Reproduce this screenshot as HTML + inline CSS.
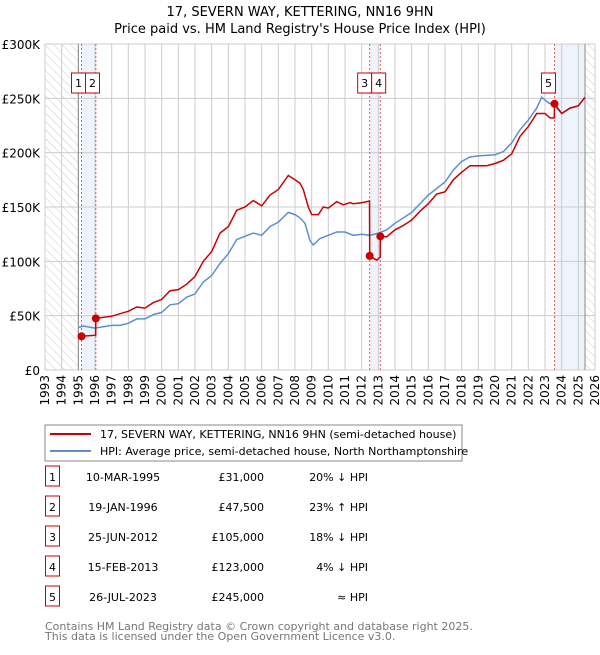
<!DOCTYPE html>
<html><head><meta charset="utf-8"><style>
body{margin:0;background:#fff;font-family:"Liberation Sans","DejaVu Sans",sans-serif;}
svg text{font-family:"DejaVu Sans","Liberation Sans",sans-serif;}
</style></head><body>
<svg id="c" width="600" height="650" xmlns="http://www.w3.org/2000/svg">
<defs><pattern id="hatch" width="6" height="6" patternUnits="userSpaceOnUse" patternTransform="rotate(-45)"><line x1="0" y1="0" x2="0" y2="6" stroke="#ccc" stroke-width="1"/></pattern></defs>
<text x="300" y="16" text-anchor="middle" font-size="13">17, SEVERN WAY, KETTERING, NN16 9HN</text>
<text x="300" y="33" text-anchor="middle" font-size="13">Price paid vs. HM Land Registry's House Price Index (HPI)</text>
<g id="plot"></g>
<rect x="45" y="425" width="417" height="36" fill="#fff" stroke="#888"/>
<line x1="50" y1="434" x2="91" y2="434" stroke="#cc0000" stroke-width="2"/>
<text x="100" y="438" font-size="11">17, SEVERN WAY, KETTERING, NN16 9HN (semi-detached house)</text>
<line x1="50" y1="451" x2="91" y2="451" stroke="#5b8fd0" stroke-width="2"/>
<text x="100" y="455" font-size="11">HPI: Average price, semi-detached house, North Northamptonshire</text>
<g id="tbl" font-size="11"></g>
<text x="45" y="630" font-size="11" fill="#777">Contains HM Land Registry data © Crown copyright and database right 2025.</text>
<text x="45" y="640" font-size="11" fill="#777">This data is licensed under the Open Government Licence v3.0.</text>
</svg>
<script>
const hpiYears=[1995,1995.3,1996,1997,1997.5,1998,1998.5,1999,1999.5,2000,2000.5,2001,2001.5,2002,2002.5,2003,2003.5,2004,2004.5,2005,2005.5,2006,2006.5,2007,2007.6,2008,2008.3,2008.6,2008.9,2009.1,2009.5,2010,2010.5,2011,2011.5,2012,2012.5,2013,2013.5,2014,2015,2016,2017,2017.5,2018,2018.5,2019,2020,2020.5,2021,2021.5,2022,2022.5,2022.8,2023.2,2023.6,2024,2024.5,2025,2025.4];
const hpiValues=[39,40.5,38.6,41,41,43,47,47,51,53,60,61,67,70,81,87,98,107,120,123,126,124,132,136,145,143,140,135,119,115,121,124,127,127,124,125,124,126,129,135,145,161,173,184,192,196,197,198,201,209,221,230,241,251,246,243,236,241,243,251];
const priceYears=[1995.19,1996.04,1996.05,1997,1998,1998.5,1999,1999.5,2000,2000.5,2001,2001.5,2002,2002.5,2003,2003.5,2004,2004.5,2005,2005.5,2006,2006.5,2007,2007.6,2008,2008.3,2008.5,2008.8,2009,2009.4,2009.7,2010,2010.5,2010.9,2011.3,2011.5,2012,2012.47,2012.48,2012.9,2013.11,2013.12,2013.5,2014,2014.5,2015,2015.5,2016,2016.5,2017,2017.5,2018,2018.5,2019,2019.5,2020,2020.5,2021,2021.5,2022,2022.5,2023,2023.3,2023.56,2023.57,2024,2024.5,2025,2025.4];
const priceValues=[31,32,47.5,49.5,54,58,57,62,65,73,74,79,86,100,109,126,132,147,150,156,151,161,166,179,175,172,166,150,143,143,150,149,155,152,154,153,154,155.5,105,101,104,123,122.6,129,133,138,146,153,162,164,175,182,188,188,188,190,193,199,215,224,236,236,232,232,245,236,241,243,251];
const saleLabels=["1","2","3","4","5"];
const saleYears=[1995.19,1996.05,2012.48,2013.12,2023.57];
const salePrices=[31,47.5,105,123,245];
const saleDates=["10-MAR-1995","19-JAN-1996","25-JUN-2012","15-FEB-2013","26-JUL-2023"];
const salePriceText=["£31,000","£47,500","£105,000","£123,000","£245,000"];
const saleHpiText=["20% ↓ HPI","23% ↑ HPI","18% ↓ HPI","4% ↓ HPI","≈ HPI"];
const yTicks=[0,50,100,150,200,250,300];
const yTickLabels=["£0","£50K","£100K","£150K","£200K","£250K","£300K"];
const xStart=1993,xEnd=2026;
const L=45,R=595,T=44,B=370;
const X=y=>L+(y-xStart)/(xEnd-xStart)*(R-L);
const Y=v=>B-v/300*(B-T);
const NS="http://www.w3.org/2000/svg";
const g=document.getElementById('plot');
function mk(t,a,p){const e=document.createElementNS(NS,t);for(const k in a)e.setAttribute(k,a[k]);(p||g).appendChild(e);return e;}
// hatched regions
let h1=mk('rect',{x:L,y:T,width:X(1995)-L,height:B-T,fill:'url(#hatch)'});


let h2=mk('rect',{x:X(2025.4),y:T,width:R-X(2025.4),height:B-T,fill:'url(#hatch)'});


// shaded sale periods
[[0,1],[2,3]].forEach(([a,b])=>{let r=mk('rect',{x:X(saleYears[a]),y:T,width:X(saleYears[b])-X(saleYears[a]),height:B-T,fill:'#eef3fc'});

});
let r5=mk('rect',{x:X(saleYears[4]),y:T,width:X(2025.4)-X(saleYears[4]),height:B-T,fill:'#eef3fc'});


// grid
for(let yr=xStart;yr<=xEnd;yr++){let l=mk('line',{x1:X(yr),x2:X(yr),y1:T,y2:B,stroke:'#ccc','stroke-width':1});


let t=mk('text',{x:0,y:0,'font-size':12,'text-anchor':'end',transform:`translate(${X(yr)+4},${B+5}) rotate(-90)`});
t.textContent=yr;

}
yTicks.forEach((v,i)=>{let l=mk('line',{x1:L,x2:R,y1:Y(v),y2:Y(v),stroke:'#ccc','stroke-width':1});


let t=mk('text',{x:40,y:Y(v)+5,'font-size':12,'text-anchor':'end'});
t.textContent=yTickLabels[i];

});
let bl=mk('line',{x1:X(1995),x2:X(1995),y1:T,y2:B,stroke:'#888'});


let el=mk('line',{x1:X(2025.4),x2:X(2025.4),y1:T,y2:B,stroke:'#888'});


// sale lines
saleYears.forEach(s=>{let l=mk('line',{x1:X(s),x2:X(s),y1:T,y2:B,stroke:'#e06060','stroke-dasharray':'2,2'});

});
const path=(xs,vs)=>xs.map((x,i)=>(i?'L':'M')+X(x).toFixed(1)+','+Y(vs[i]).toFixed(1)).join('');
let hp=mk('path',{d:path(hpiYears,hpiValues),fill:'none',stroke:'#5b8fd0','stroke-width':1.5});


let pp=mk('path',{d:path(priceYears,priceValues),fill:'none',stroke:'#cc0000','stroke-width':1.5});


const boxOff=[-3,-3,-5,-3,-6];
const boxX=saleYears.map((s,i)=>X(s));
// resolve box positions
const bx=[X(saleYears[0])-10,X(saleYears[0])+4,X(saleYears[2])-12,X(saleYears[2])+2,X(saleYears[4])-13];
saleYears.forEach((s,i)=>{
let p=mk('circle',{cx:X(s),cy:Y(salePrices[i]),r:4,fill:'#cc0000'});


let b=mk('rect',{x:bx[i],y:73,width:14,height:20,fill:'#fff',stroke:'#cc0000'});


let t=mk('text',{x:bx[i]+7,y:87,'font-size':11,'text-anchor':'middle'});
t.textContent=saleLabels[i];

});
// table
const tb=document.getElementById('tbl');
saleLabels.forEach((lab,i)=>{const y=483+i*30;
let b=mk('rect',{x:45.5,y:y-17,width:14,height:20,fill:'#fff',stroke:'#cc0000'},tb);


let t0=mk('text',{x:52.5,y:y-2,'text-anchor':'middle'},tb);t0.textContent=lab;


let t1=mk('text',{x:123,y:y-2,'text-anchor':'middle'},tb);t1.textContent=saleDates[i];


let t2=mk('text',{x:264,y:y-2,'text-anchor':'end'},tb);t2.textContent=salePriceText[i];


let t3=mk('text',{x:368,y:y-2,'text-anchor':'end'},tb);t3.textContent=saleHpiText[i];

});
</script>
</body></html>
